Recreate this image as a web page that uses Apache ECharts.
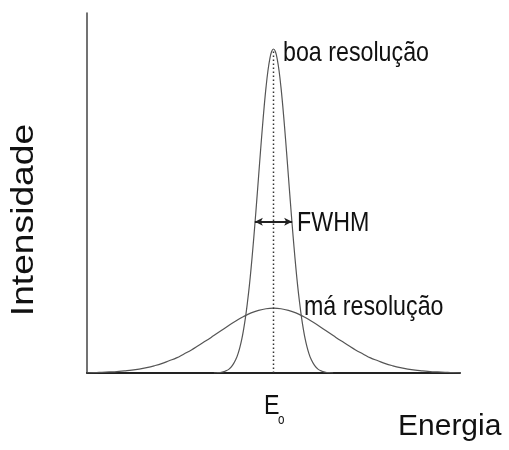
<!DOCTYPE html>
<html>
<head>
<meta charset="utf-8">
<script src="https://cdn.jsdelivr.net/npm/echarts@6/dist/echarts.min.js"></script>
<style>html,body{margin:0;padding:0;background:#fff}#c{width:509px;height:450px}</style>
</head>
<body>
<div id="c"></div>
<script>
// Narrow peak (boa resolução)
var narrowX = [34,35,36,37,38,39,40,40.5,41,41.5,42,42.5,43,43.5,44,44.5,45,45.5,46,46.5,47,47.5,48,48.5,49,49.5,50,50.5,51,51.5,52,52.5,53,53.5,54,54.5,55,55.5,56,56.5,57,57.5,58,58.5,59,59.5,60,61,62,63,64,65,66];
var narrowY = [0,0.1,0.2,0.5,1.0,2.1,4.0,5.4,7.2,9.4,12.2,15.5,19.5,24.0,29.2,35.0,41.2,47.8,54.6,61.4,67.9,74.0,79.4,83.9,87.2,89.3,90,89.3,87.2,83.9,79.4,74.0,67.9,61.4,54.6,47.8,41.2,35.0,29.2,24.0,19.5,15.5,12.2,9.4,7.2,5.4,4.0,2.1,1.0,0.5,0.2,0.1,0];
// Wide peak (má resolução)
var wideX = [0,2,4,6,8,10,12,14,16,18,20,22,24,26,28,30,32,34,36,38,40,42,44,46,48,50,52,54,56,58,60,62,64,66,68,70,72,74,76,78,80,82,84,86,88,90,92,94,96,98,100];
var wideY = [0.05,0.1,0.2,0.3,0.4,0.6,0.8,1.1,1.5,2.0,2.6,3.4,4.2,5.3,6.4,7.7,9.0,10.4,11.8,13.2,14.5,15.7,16.7,17.4,17.85,18,17.85,17.4,16.7,15.7,14.5,13.2,11.8,10.4,9.0,7.7,6.4,5.3,4.2,3.4,2.6,2.0,1.5,1.1,0.8,0.6,0.4,0.3,0.2,0.1,0.05];
// E0 marker line and FWHM arrow
var centerX = [50,50];
var centerY = [0,90];
var fwhmX = [45,55];
var fwhmY = 42;

var labels = {
  good: 'boa resolução',
  bad: 'má resolução',
  fwhm: 'FWHM',
  e: 'E',
  sub: 'o',
  xName: 'Energia',
  yName: 'Intensidade'
};

function zip(a, b) { return a.map(function (v, i) { return [v, b[i]]; }); }

var mainFont = "'Liberation Sans',Arial,sans-serif";
var narrowScale = 0.83;

var chart = echarts.init(document.getElementById('c'), null, {renderer: 'canvas'});
chart.setOption({
  animation: false,
  backgroundColor: '#ffffff',
  grid: {left: 87, right: 49, top: 13, bottom: 77},
  xAxis: {
    type: 'value', min: 0, max: 100,
    axisLine: {show: true, lineStyle: {color: '#222', width: 2}},
    axisTick: {show: false}, axisLabel: {show: false}, splitLine: {show: false}
  },
  yAxis: {
    type: 'value', min: 0, max: 100,
    axisLine: {show: true, lineStyle: {color: '#444', width: 1.5}},
    axisTick: {show: false}, axisLabel: {show: false}, splitLine: {show: false}
  },
  series: [
    {
      type: 'line', data: zip(wideX, wideY), smooth: 0.4, showSymbol: false, silent: true,
      lineStyle: {color: '#555', width: 1.2}
    },
    {
      type: 'line', data: zip(narrowX, narrowY), smooth: 0.4, showSymbol: false, silent: true,
      lineStyle: {color: '#555', width: 1.2}
    },
    {
      type: 'line', data: zip(centerX, centerY), showSymbol: false, silent: true,
      lineStyle: {color: '#333', width: 1.5, type: [1.5, 2.5]},
      markLine: {
        silent: true,
        symbol: ['arrow', 'arrow'], symbolSize: [6, 8],
        label: {show: false},
        lineStyle: {color: '#222', width: 2, type: 'solid'},
        data: [[{coord: [fwhmX[0], fwhmY]}, {coord: [fwhmX[1], fwhmY]}]]
      }
    }
  ],
  graphic: [
    {type: 'text', x: 283, y: 39, scaleX: narrowScale, style: {text: labels.good, font: '28px ' + mainFont, fill: '#111'}},
    {type: 'text', x: 297, y: 209, scaleX: narrowScale, style: {text: labels.fwhm, font: '28px ' + mainFont, fill: '#111'}},
    {type: 'text', x: 304, y: 293, scaleX: narrowScale, style: {text: labels.bad, font: '28px ' + mainFont, fill: '#111'}},
    {type: 'text', x: 264, y: 392, scaleX: narrowScale, style: {text: labels.e, font: '28px ' + mainFont, fill: '#111'}},
    {type: 'text', x: 278, y: 413, scaleX: narrowScale, style: {text: labels.sub, font: '14px ' + mainFont, fill: '#111'}},
    {type: 'text', x: 398, y: 412, style: {text: labels.xName, font: '30px ' + mainFont, fill: '#111'}},
    {type: 'text', x: 24, y: 220, rotation: Math.PI / 2, scaleX: 1.2,
      style: {text: labels.yName, font: '31px ' + mainFont, fill: '#111', textAlign: 'center', textVerticalAlign: 'middle'}}
  ]
});
</script>
</body>
</html>
